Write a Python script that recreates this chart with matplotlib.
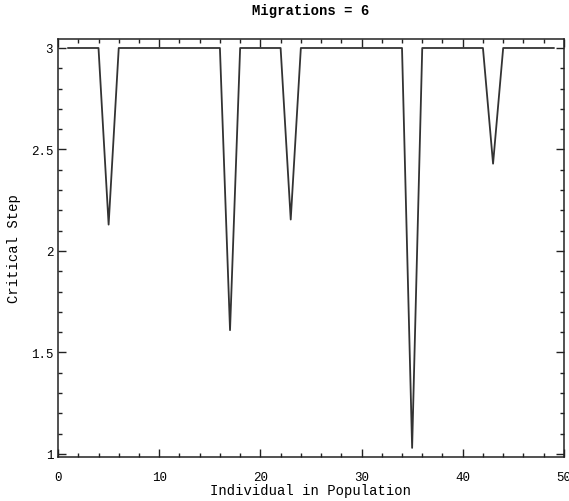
import matplotlib
matplotlib.use("Agg")
import matplotlib.pyplot as plt
from matplotlib.ticker import MultipleLocator, FixedLocator

# Data
individuals = list(range(1, 50))
dip_positions = [5, 17, 23, 35, 43]
dip_values = [2.13, 1.61, 2.155, 1.03, 2.43]
base_value = 3.0
critical_step = [base_value] * len(individuals)
for p, v in zip(dip_positions, dip_values):
    critical_step[individuals.index(p)] = v

xticks = [0, 10, 20, 30, 40, 50]
xtick_labels = ["0", "10", "20", "30", "40", "50"]
yticks = [1, 1.5, 2, 2.5, 3]
ytick_labels = ["1", "1.5", "2", "2.5", "3"]

title = "Migrations = 6"
xlabel = "Individual in Population"
ylabel = "Critical Step"

plt.rcParams['font.family'] = ['Liberation Mono', 'DejaVu Sans Mono']

fig = plt.figure(figsize=(5.69, 5.02), dpi=100)
ax = fig.add_axes([0.102, 0.0876, 0.889, 0.8334])

ax.plot(individuals, critical_step, color="#333333", linewidth=1.3)

ax.set_xlim(0, 50)
ax.set_ylim(0.985, 3.046)

ax.xaxis.set_major_locator(FixedLocator(xticks))
ax.set_xticklabels(xtick_labels)
ax.xaxis.set_minor_locator(MultipleLocator(2))
ax.yaxis.set_major_locator(FixedLocator(yticks))
ax.set_yticklabels(ytick_labels)
ax.yaxis.set_minor_locator(MultipleLocator(0.1))

ax.tick_params(which="both", direction="in", top=True, right=True, labelsize=9, color="#222222")
ax.tick_params(which="major", length=6, width=1)
ax.tick_params(which="minor", length=3, width=1)
ax.tick_params(axis="x", which="major", pad=10)
for s in ax.spines.values():
    s.set_linewidth(1.1)
    s.set_color("#222222")

ax.set_title(title, fontsize=10, fontweight="bold", pad=18)
ax.set_xlabel(xlabel, fontsize=10, labelpad=0)
ax.set_ylabel(ylabel, fontsize=10)
ax.yaxis.set_label_coords(-0.074, 0.5)

fig.savefig("out.png", dpi=100)
